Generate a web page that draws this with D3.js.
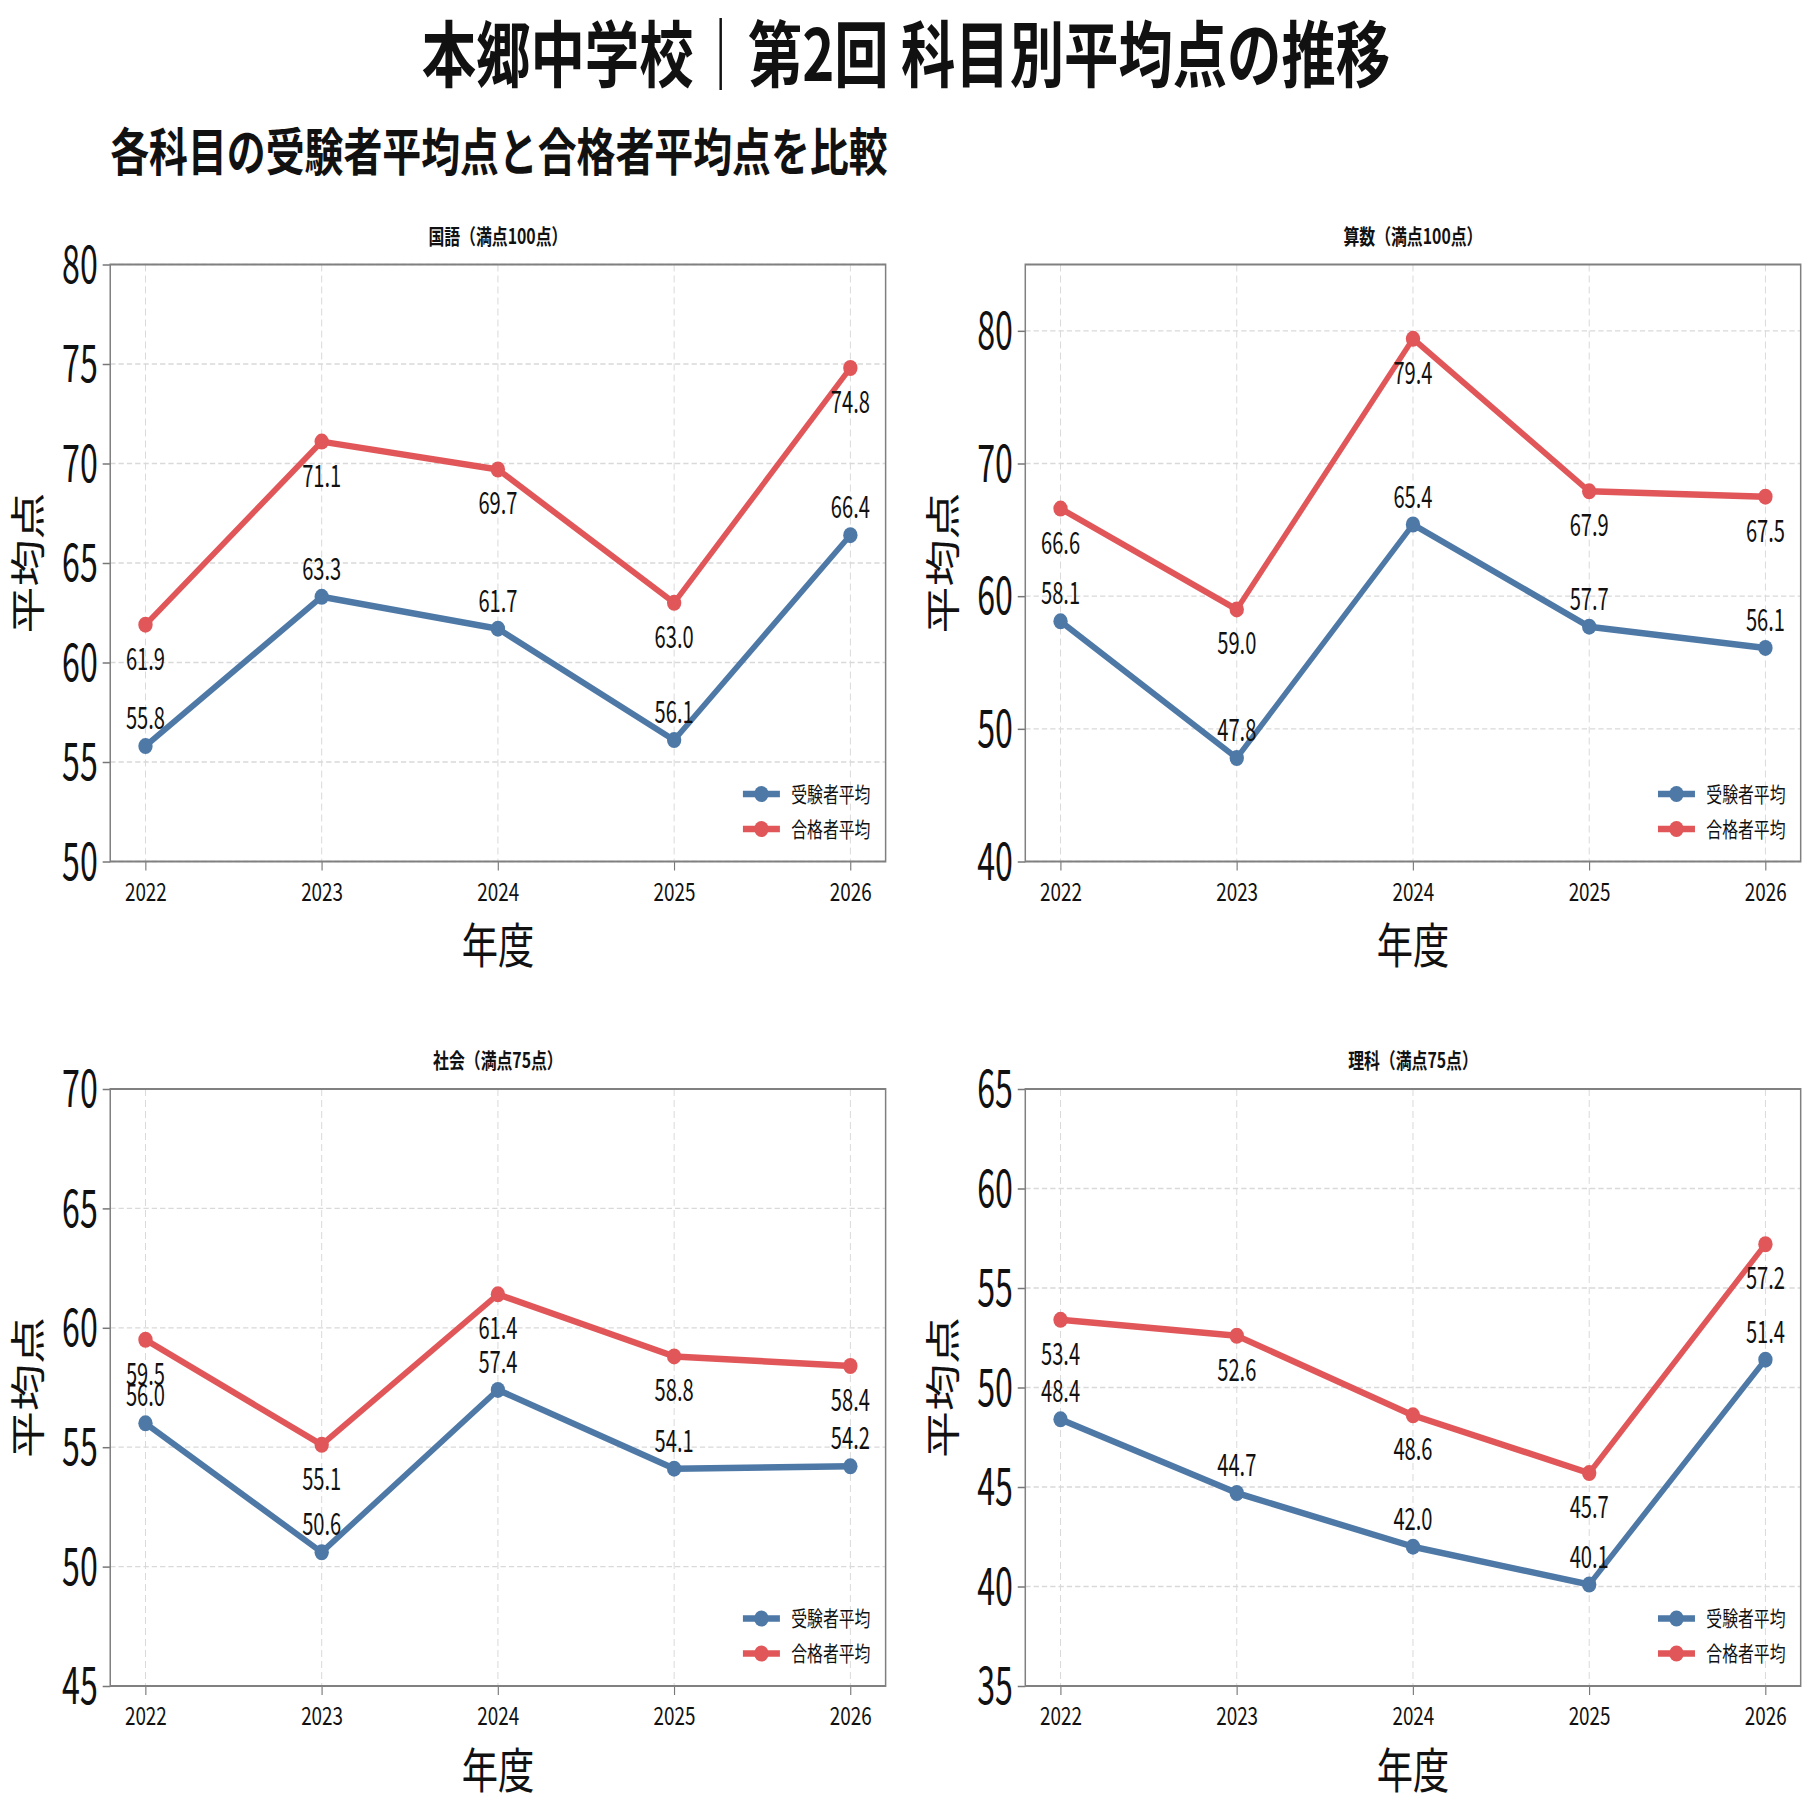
<!DOCTYPE html>
<html>
<head>
<meta charset="utf-8">
<script src="https://cdn.jsdelivr.net/npm/d3@7"></script>
<style>
  html, body { margin: 0; padding: 0; background: #fff; }
  svg { display: block; }
  text { font-family: "Noto Sans CJK JP", "Noto Sans", sans-serif; fill: #111; }
</style>
</head>
<body>
<div id="chart"></div>
<script>
// chart values
const years = [2022, 2023, 2024, 2025, 2026];
const subjects = ['国語（満点100点）', '算数（満点100点）', '社会（満点75点）', '理科（満点75点）'];
const examineeAvg = [
  [55.8, 63.3, 61.7, 56.1, 66.4],
  [58.1, 47.8, 65.4, 57.7, 56.1],
  [56.0, 50.6, 57.4, 54.1, 54.2],
  [48.4, 44.7, 42.0, 40.1, 51.4],
];
const passerAvg = [
  [61.9, 71.1, 69.7, 63.0, 74.8],
  [66.6, 59.0, 79.4, 67.9, 67.5],
  [59.5, 55.1, 61.4, 58.8, 58.4],
  [53.4, 52.6, 48.6, 45.7, 57.2],
];
const yDomains = [[50, 80], [40, 85], [45, 70], [35, 65]];
const yTicks = [
  [50, 55, 60, 65, 70, 75, 80],
  [40, 50, 60, 70, 80],
  [45, 50, 55, 60, 65, 70],
  [35, 40, 45, 50, 55, 60, 65],
];
const seriesNames = ['受験者平均', '合格者平均'];
const colors = ['#4E79A7', '#E15759'];
const title = '本郷中学校｜第2回 科目別平均点の推移';
const subtitle = '各科目の受験者平均点と合格者平均点を比較';

// the figure is drawn on a wider canvas and squeezed to the window
const W = 2400, H = 1812;
const svg = d3.select('#chart')
  .append('svg')
  .attr('width', 1812)
  .attr('height', 1812)
  .attr('viewBox', `0 0 ${W} ${H}`)
  .attr('preserveAspectRatio', 'none');

svg.append('text')
  .attr('x', W / 2)
  .attr('y', 81)
  .attr('text-anchor', 'middle')
  .style('font-size', '72px')
  .style('font-weight', 700)
  .text(title);

svg.append('text')
  .attr('x', 146)
  .attr('y', 171)
  .style('font-size', '51.5px')
  .style('font-weight', 700)
  .text(subtitle);

const colLeft = [146, 1358];
const rowTop = [264.5, 1089];
const pw = 1027, ph = 597;

subjects.forEach((name, i) => {
  const left = colLeft[i % 2];
  const top = rowTop[Math.floor(i / 2)];
  const g = svg.append('g').attr('transform', `translate(${left},${top})`);

  const x = d3.scaleLinear().domain([2021.8, 2026.2]).range([0, pw]);
  const y = d3.scaleLinear().domain(yDomains[i]).range([ph, 0]);

  // grid
  const grid = g.append('g').attr('class', 'grid');
  grid.selectAll('line.gx')
    .data(years)
    .join('line')
    .attr('x1', (d) => x(d)).attr('x2', (d) => x(d))
    .attr('y1', 0).attr('y2', ph);
  grid.selectAll('line.gy')
    .data(yTicks[i])
    .join('line')
    .attr('class', 'gy')
    .attr('x1', 0).attr('x2', pw)
    .attr('y1', (d) => y(d)).attr('y2', (d) => y(d));
  grid.selectAll('line')
    .attr('stroke', '#d9d9d9')
    .attr('stroke-width', 1.3)
    .attr('stroke-dasharray', '7,4');

  // axes
  const yAxis = g.append('g')
    .call(d3.axisLeft(y).tickValues(yTicks[i]).tickSize(10).tickPadding(10).tickFormat(d3.format('d')));
  yAxis.select('.domain').remove();
  yAxis.selectAll('line').attr('stroke', '#777').attr('stroke-width', 1.5);
  yAxis.selectAll('text')
    .style('font-size', '52px')
    .style('font-family', '"Noto Sans CJK JP"')
    .attr('fill', '#111')
    .attr('dy', '0.34em')
    .attr('transform', 'scale(0.82,1)');

  const xAxis = g.append('g')
    .attr('transform', `translate(0,${ph})`)
    .call(d3.axisBottom(x).tickValues(years).tickSize(9).tickPadding(8).tickFormat(d3.format('d')));
  xAxis.select('.domain').remove();
  xAxis.selectAll('line').attr('stroke', '#777').attr('stroke-width', 1.5);
  xAxis.selectAll('text')
    .style('font-size', '25px')
    .style('font-family', '"Noto Sans CJK JP"')
    .attr('fill', '#111')
    .attr('dy', '0.9em');

  // frame
  g.append('rect')
    .attr('width', pw)
    .attr('height', ph)
    .attr('fill', 'none')
    .attr('stroke', '#808080')
    .attr('stroke-width', 2);

  // titles
  g.append('text')
    .attr('x', pw / 2)
    .attr('y', -21)
    .attr('text-anchor', 'middle')
    .style('font-size', '21px')
    .style('font-weight', 700)
    .text(name);

  g.append('text')
    .attr('x', pw / 2)
    .attr('y', ph + 102)
    .attr('text-anchor', 'middle')
    .style('font-size', '48px')
    .text('年度');

  g.append('text')
    .attr('transform', `translate(-109,${ph / 2}) rotate(-90)`)
    .attr('text-anchor', 'middle')
    .attr('dy', '0.36em')
    .style('font-size', '47px')
    .text('平均点');

  // lines
  const line = d3.line().x((d, j) => x(years[j])).y((d) => y(d));
  [examineeAvg[i], passerAvg[i]].forEach((vals, s) => {
    g.append('path')
      .datum(vals)
      .attr('d', line)
      .attr('fill', 'none')
      .attr('stroke', colors[s])
      .attr('stroke-width', 6.5)
      .attr('stroke-linejoin', 'round');
    g.selectAll(null)
      .data(vals)
      .join('ellipse')
      .attr('cx', (d, j) => x(years[j]))
      .attr('cy', (d) => y(d))
      .attr('rx', 9.5)
      .attr('ry', 8)
      .attr('fill', colors[s]);
    g.selectAll(null)
      .data(vals)
      .join('text')
      .attr('transform', (d, j) => `translate(${x(years[j])},${s === 0 ? y(d) - 17 : y(d) + 45}) scale(0.86,1)`)
      .attr('text-anchor', 'middle')
      .style('font-size', '31px')
      .text((d) => d.toFixed(1));
  });

  // legend
  const legend = g.append('g').attr('transform', `translate(${pw - 189},${ph - 67.5})`);
  seriesNames.forEach((s, k) => {
    const row = legend.append('g').attr('transform', `translate(0,${k * 35})`);
    row.append('line')
      .attr('x1', 0).attr('x2', 49)
      .attr('stroke', colors[k])
      .attr('stroke-width', 6.5);
    row.append('ellipse')
      .attr('cx', 24.5)
      .attr('rx', 9.5)
      .attr('ry', 8)
      .attr('fill', colors[k]);
    row.append('text')
      .attr('x', 64)
      .attr('dy', '0.36em')
      .style('font-size', '21px')
      .text(s);
  });
});
</script>
</body>
</html>
